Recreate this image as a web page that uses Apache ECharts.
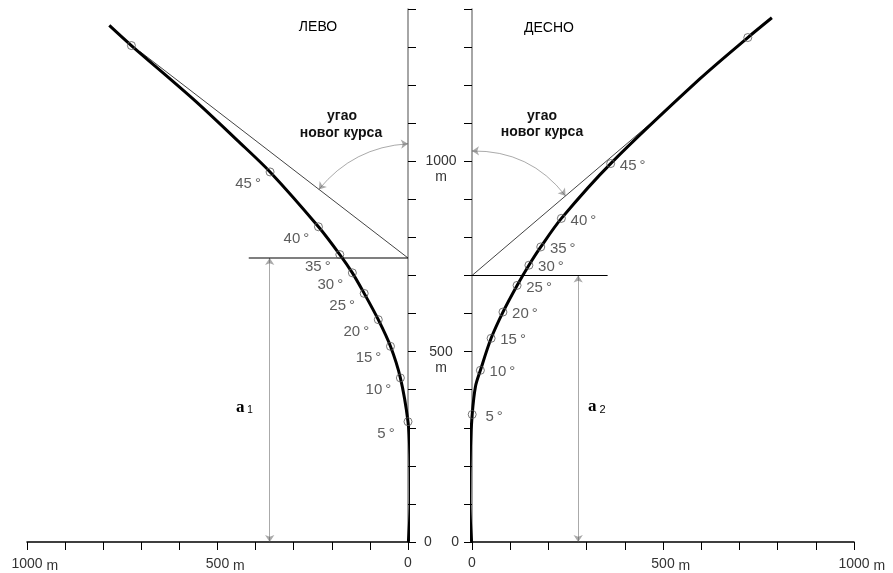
<!DOCTYPE html>
<html>
<head>
<meta charset="utf-8">
<script src="https://cdn.jsdelivr.net/npm/echarts@6/dist/echarts.min.js"></script>
<style>
  html, body { margin: 0; padding: 0; background: #fff; }
  #chart { width: 893px; height: 573px; }
</style>
</head>
<body>
<div id="chart"></div>
<script>
// угао скретања на кривини (ознаке на кружићима)
const angleLabels = ['5°', '10°', '15°', '20°', '25°', '30°', '35°', '40°', '45°', ''];

// ЛЕВО - кружићи на кривини (m)
const leftMarkX = [0, 20, 46, 78, 115, 146, 179, 235, 362, 726];
const leftMarkY = [316, 431, 514, 584, 653, 707, 755, 828, 972, 1304];

// ДЕСНО - кружићи на кривини (m)
const rightMarkX = [0.5, 22, 50, 81, 118, 149, 180, 234, 363, 722];
const rightMarkY = [335, 451, 535, 604, 674, 727, 775, 850, 994, 1325];

// путање (m)
const leftCurveX = [-1, -6, -5, 0, 20, 46, 78, 115, 146, 179, 235, 362, 448, 560, 726, 784];
const leftCurveY = [0, 110, 230, 316, 431, 514, 584, 653, 707, 755, 828, 972, 1055, 1160, 1304, 1357];
const rightCurveX = [-1, -6, -4, 0.5, 9, 22, 50, 81, 118, 149, 180, 234, 363, 597, 722, 785];
const rightCurveY = [0, 110, 250, 335, 408, 451, 535, 604, 674, 727, 775, 850, 994, 1217, 1325, 1377];

// тангенте новог курса и одстојања a1, a2
const leftTangentX = [0, 703];
const leftTangentY = [746, 1288];
const rightTangentX = [0, 480];
const rightTangentY = [700, 1110];
const a1X = 363, a1Y = 746, a1LineEnd = 418;
const a2X = 278, a2Y = 700, a2LineEnd = 355;

// угао новог курса - лук (почетак на оси, крај на тангенти)
const leftArc = [[0, 1046], [234, 926]];
const rightArc = [[0, 1027], [245, 909]];

const zip = (xs, ys) => xs.map((x, i) => [x, ys[i]]);
const FONT = 'Liberation Sans, Arial, sans-serif';

const chart = echarts.init(document.getElementById('chart'));

const xLabel = v => {
  if (v === 0) return '0';
  if (v === 500 || v === 1000) return '{h| m}{n|' + v + '}{u| m}';
  return '';
};
const xLabelRich = {
  h: { color: 'rgba(0,0,0,0)', fontSize: 14, fontFamily: FONT },
  n: { color: '#333', fontSize: 14, fontFamily: FONT },
  u: { color: '#333', fontSize: 14, fontFamily: FONT, padding: [3, 0, 0, 0] }
};

const xAxisBase = {
  type: 'value', min: 0, max: 1000, interval: 100,
  axisLine: { onZero: false, lineStyle: { color: '#000', width: 1.5 } },
  axisTick: { length: 8, lineStyle: { color: '#000', width: 1 } },
  splitLine: { show: false },
  axisLabel: { margin: 14, color: '#333', fontSize: 14, fontFamily: FONT, formatter: xLabel, rich: xLabelRich }
};

const yAxisBase = {
  type: 'value', min: 0, max: 1400, interval: 100,
  axisLine: { onZero: false, lineStyle: { color: '#888', width: 1.5 } },
  axisTick: { length: 8, lineStyle: { color: '#000', width: 1 } },
  splitLine: { show: false }
};

const markSeries = (idx, xs, ys, offset) => ({
  type: 'scatter', xAxisIndex: idx, yAxisIndex: idx,
  data: xs.map((x, i) => [x, ys[i], angleLabels[i]]),
  symbol: 'circle', symbolSize: 8,
  itemStyle: { color: 'rgba(0,0,0,0)', borderColor: '#555', borderWidth: 1 },
  label: {
    show: true, position: 'inside', offset: offset,
    color: '#333', fontSize: 15, fontFamily: FONT,
    formatter: p => p.data[2].replace('°', '\u2009°')
  },
  z: 5
});

const thinLine = (idx, data, color, width) => ({
  type: 'line', xAxisIndex: idx, yAxisIndex: idx, data: data,
  symbol: 'none', clip: false,
  lineStyle: { color: color, width: width }
});

const arrowLines = (idx, coords, curveness) => ({
  type: 'lines', coordinateSystem: 'cartesian2d', xAxisIndex: idx, yAxisIndex: idx,
  symbol: ['arrow', 'arrow'], symbolSize: 7,
  lineStyle: { color: '#555', width: 1, curveness: curveness },
  itemStyle: { color: '#000' },
  data: [{ coords: coords }]
});

chart.setOption({
  animation: false,
  backgroundColor: '#fff',
  grid: [
    { left: 27, top: 9, width: 381, height: 533, containLabel: false, outerBoundsMode: 'none' },
    { left: 472, top: 9, width: 382, height: 533, containLabel: false, outerBoundsMode: 'none' }
  ],
  xAxis: [
    Object.assign({}, xAxisBase, { gridIndex: 0, inverse: true }),
    Object.assign({}, xAxisBase, { gridIndex: 1 })
  ],
  yAxis: [
    Object.assign({}, yAxisBase, {
      gridIndex: 0, position: 'right',
      axisLabel: {
        margin: 33, align: 'center', color: '#333', fontSize: 14, fontFamily: FONT, lineHeight: 16,
        formatter: v => v === 0 ? '{z|0}' : (v === 500 || v === 1000 ? '\n' + v + '\nm' : ''),
        rich: { z: { color: '#333', fontSize: 14, fontFamily: FONT, padding: [0, 26, 0, 0] } }
      }
    }),
    Object.assign({}, yAxisBase, {
      gridIndex: 1, position: 'left',
      axisLabel: { margin: 13, color: '#333', fontSize: 14, fontFamily: FONT, formatter: v => v === 0 ? '0' : '' }
    })
  ],
  series: [
    // ЛЕВО
    thinLine(0, zip(leftTangentX, leftTangentY), '#444', 1),
    thinLine(0, [[a1LineEnd, a1Y], [0, a1Y]], '#000', 1.2),
    arrowLines(0, [[a1X, a1Y], [a1X, 0]], 0),
    arrowLines(0, leftArc, -0.22),
    {
      type: 'line', xAxisIndex: 0, yAxisIndex: 0, data: zip(leftCurveX, leftCurveY),
      symbol: 'none', smooth: 0.3, clip: false,
      lineStyle: { color: '#000', width: 3 }, z: 4
    },
    markSeries(0, leftMarkX, leftMarkY, [-22, 12]),
    // ДЕСНО
    thinLine(1, zip(rightTangentX, rightTangentY), '#444', 1),
    thinLine(1, [[0, a2Y], [a2LineEnd, a2Y]], '#000', 1.2),
    arrowLines(1, [[a2X, a2Y], [a2X, 0]], 0),
    arrowLines(1, rightArc, 0.25),
    {
      type: 'line', xAxisIndex: 1, yAxisIndex: 1, data: zip(rightCurveX, rightCurveY),
      symbol: 'none', smooth: 0.3, clip: false,
      lineStyle: { color: '#000', width: 3 }, z: 4
    },
    markSeries(1, rightMarkX, rightMarkY, [22, 2])
  ],
  graphic: [
    { type: 'text', x: 318, y: 27, style: { text: 'ЛЕВО', font: '14px ' + FONT, fill: '#000', align: 'center', verticalAlign: 'middle' } },
    { type: 'text', x: 549, y: 28, style: { text: 'ДЕСНО', font: '14px ' + FONT, fill: '#000', align: 'center', verticalAlign: 'middle' } },
    { type: 'text', x: 342, y: 116, style: { text: 'угао', font: 'bold 14px ' + FONT, fill: '#111', align: 'center', verticalAlign: 'middle' } },
    { type: 'text', x: 341, y: 133, style: { text: 'новог курса', font: 'bold 14px ' + FONT, fill: '#111', align: 'center', verticalAlign: 'middle' } },
    { type: 'text', x: 542, y: 116, style: { text: 'угао', font: 'bold 14px ' + FONT, fill: '#111', align: 'center', verticalAlign: 'middle' } },
    { type: 'text', x: 542, y: 132, style: { text: 'новог курса', font: 'bold 14px ' + FONT, fill: '#111', align: 'center', verticalAlign: 'middle' } },
    {
      type: 'text', x: 236, y: 408,
      style: {
        text: '{a|a}{s| 1}', verticalAlign: 'middle',
        rich: {
          a: { font: 'bold 17px Liberation Serif, serif', color: '#000' },
          s: { font: '10px ' + FONT, color: '#444', padding: [5, 0, 0, 0] }
        }
      }
    },
    {
      type: 'text', x: 588, y: 407,
      style: {
        text: '{a|a}{s| 2}', verticalAlign: 'middle',
        rich: {
          a: { font: 'bold 17px Liberation Serif, serif', color: '#000' },
          s: { font: '11px ' + FONT, color: '#444', padding: [5, 0, 0, 0] }
        }
      }
    }
  ]
});
</script>
</body>
</html>
